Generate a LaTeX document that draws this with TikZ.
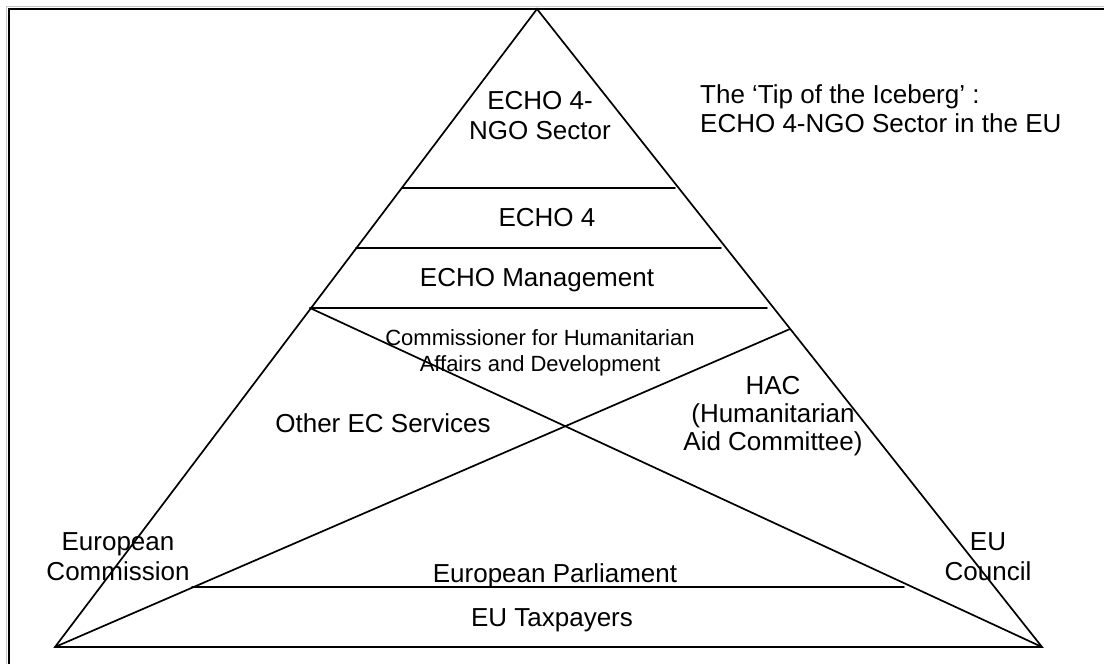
\documentclass[tikz,border=0pt]{standalone}
\usepackage{fontspec}
\setmainfont{Liberation Sans}
\begin{document}
\begin{tikzpicture}[x=1pt,y=-1pt,
  edge/.style={line width=1.7pt, line cap=round, line join=miter},
  frame/.style={line width=2pt},
  shadow/.style={line width=1pt, gray!45},
  lbl/.style={font=\fontsize{26}{30}\selectfont, align=center, inner sep=0pt},
  sml/.style={font=\fontsize{22}{26}\selectfont, align=center, inner sep=0pt},
  ttl/.style={font=\fontsize{26}{29.5}\selectfont, align=left, inner sep=0pt, anchor=north west}]
\useasboundingbox (0,0) rectangle (1104,664);
% frame (only top and left edges visible)
\coordinate (ftr) at (1110,9);
\coordinate (ftl) at (9,9);
\coordinate (fbl) at (9,670);
\draw[shadow] (1110,6.5) -- (6.5,6.5) -- (6.5,670);
\draw[frame] (ftr) -- (ftl) -- (fbl);
% triangle
\coordinate (A) at (537,9);
\coordinate (B) at (55,647);
\coordinate (C) at (1042,647);
\draw[edge] (A) -- (B) -- (C) -- cycle;
% diagonals
\coordinate (D1) at (310,308);
\coordinate (D2) at (790,329);
\draw[edge] (D1) -- (C);
\draw[edge] (B) -- (D2);
% horizontal tiers
\coordinate (h1l) at (402,188); \coordinate (h1r) at (675,188);
\coordinate (h2l) at (356,248); \coordinate (h2r) at (721,248);
\coordinate (h3l) at (310,308); \coordinate (h3r) at (767,308);
\coordinate (h4l) at (192,587); \coordinate (h4r) at (904,587);
\draw[edge] (h1l) -- (h1r);
\draw[edge] (h2l) -- (h2r);
\draw[edge] (h3l) -- (h3r);
\draw[edge] (h4l) -- (h4r);
% labels
\node[lbl] (ngo) at (540,116) {ECHO 4-\\NGO Sector};
\node[lbl] (echo4) at (547,218) {ECHO 4};
\node[lbl] (mgmt) at (537,280) {ECHO Management};
\node[sml] (comm) at (540,353) {Commissioner for Humanitarian\\Affairs and Development};
\node[lbl, font=\fontsize{26}{28}\selectfont] (hac) at (773,416) {HAC\\(Humanitarian\\Aid Committee)};
\node[lbl] (other) at (383,423) {Other EC Services};
\node[lbl] (ec) at (118,557) {European\\Commission};
\node[lbl] (ep) at (555,576) {European Parliament};
\node[lbl] (council) at (988,557) {EU\\Council};
\node[lbl] (tax) at (552,620) {EU Taxpayers};
\node[ttl] (title) at (700,84) {The `Tip of the Iceberg' :\\ECHO 4-NGO Sector in the EU};
\end{tikzpicture}
\end{document}
